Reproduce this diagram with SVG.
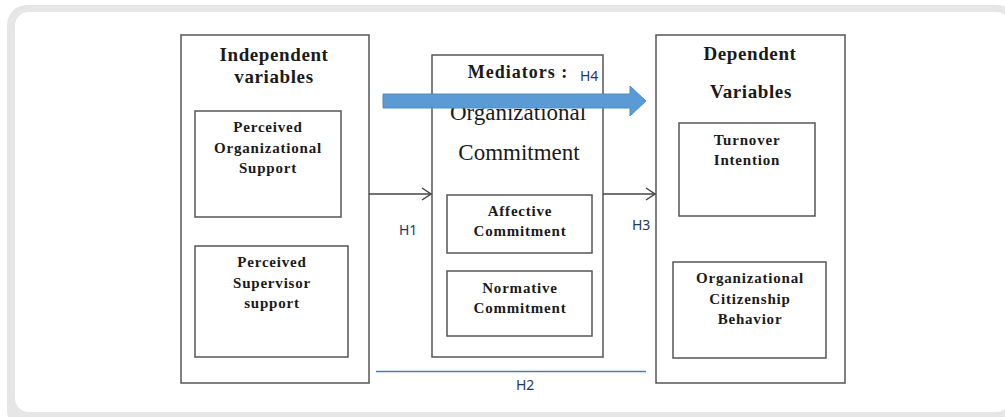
<svg xmlns="http://www.w3.org/2000/svg" width="1005" height="417" viewBox="0 0 1005 417">
<style>
.box{fill:#fff;stroke:#555;stroke-width:1.5}
.inner{fill:none;stroke:#555;stroke-width:1.5}
.t{font-family:"Liberation Serif","Times New Roman",serif;font-weight:bold;fill:#1a1a1a;text-anchor:middle}
.tl{font-size:19px;letter-spacing:0.6px}
.ts{font-size:15px;letter-spacing:0.8px}
.tn{font-family:"Liberation Serif","Times New Roman",serif;font-size:23px;fill:#1a1a1a;text-anchor:middle}
.h{font-family:"Noto Sans","Liberation Sans",sans-serif;font-size:14px;fill:#1f3864}
.conn{stroke:#444;stroke-width:1.5;fill:none}
</style>
<defs>
<marker id="chev" markerWidth="12" markerHeight="14" refX="10" refY="7" orient="auto" markerUnits="userSpaceOnUse">
<path d="M1,1 L10,7 L1,13" fill="none" stroke="#444" stroke-width="1.5"/>
</marker>
</defs>
<rect x="0" y="0" width="1005" height="417" fill="#fff"/>
<rect x="7" y="5" width="1010" height="425" rx="20" fill="#e6e6e6"/>
<rect x="15" y="12" width="995" height="400" rx="14" fill="#fff"/>

<g id="independent">
<rect class="box" x="181" y="35" width="188" height="348"/>
<text class="t tl" x="274" y="61">Independent</text>
<text class="t tl" x="274" y="83">variables</text>
</g>
<g id="pos">
<rect class="inner" x="195" y="111" width="146" height="106"/>
<text class="t ts" x="268" y="132">Perceived</text>
<text class="t ts" x="268" y="153">Organizational</text>
<text class="t ts" x="268" y="173">Support</text>
</g>
<g id="pss">
<rect class="inner" x="195" y="246" width="153" height="111"/>
<text class="t ts" x="272" y="267">Perceived</text>
<text class="t ts" x="272" y="288">Supervisor</text>
<text class="t ts" x="272" y="308">support</text>
</g>

<g id="mediators">
<rect class="box" x="432" y="55" width="171" height="302"/>
<text class="t" x="518" y="78" style="font-size:18px;letter-spacing:1px">Mediators :</text>
<text class="tn" x="518" y="120">Organizational</text>
<text class="tn" x="519" y="160">Commitment</text>
</g>
<g id="affective">
<rect class="inner" x="447" y="195" width="145" height="58"/>
<text class="t ts" x="520" y="216">Affective</text>
<text class="t ts" x="520" y="236">Commitment</text>
</g>
<g id="normative">
<rect class="inner" x="447" y="271" width="145" height="65"/>
<text class="t ts" x="520" y="293">Normative</text>
<text class="t ts" x="520" y="313">Commitment</text>
</g>

<g id="dependent">
<rect class="box" x="656" y="35" width="189" height="348"/>
<text class="t tl" x="750" y="60">Dependent</text>
<text class="t tl" x="751" y="98">Variables</text>
</g>
<g id="turnover">
<rect class="inner" x="679" y="123" width="136" height="93"/>
<text class="t ts" x="747" y="145">Turnover</text>
<text class="t ts" x="747" y="165">Intention</text>
</g>
<g id="ocb">
<rect class="inner" x="673" y="262" width="153" height="96"/>
<text class="t ts" x="750" y="283">Organizational</text>
<text class="t ts" x="750" y="304">Citizenship</text>
<text class="t ts" x="750" y="324">Behavior</text>
</g>

<g id="connectors">
<line class="conn" x1="369" y1="194" x2="431" y2="194" marker-end="url(#chev)"/>
<line class="conn" x1="603" y1="194" x2="655" y2="194" marker-end="url(#chev)"/>
<line x1="376" y1="371.5" x2="646" y2="371.5" stroke="#4a7fb5" stroke-width="1.5"/>
<polygon points="383,94 630,94 630,86 646,101 630,116 630,108 383,108" fill="#5b9bd5" stroke="#4f8cc4" stroke-width="1"/>
<text class="h" x="399" y="235">H1</text>
<text class="h" x="632" y="230">H3</text>
<text class="h" x="580" y="81">H4</text>
<text class="h" x="516" y="390">H2</text>
</g>
</svg>
